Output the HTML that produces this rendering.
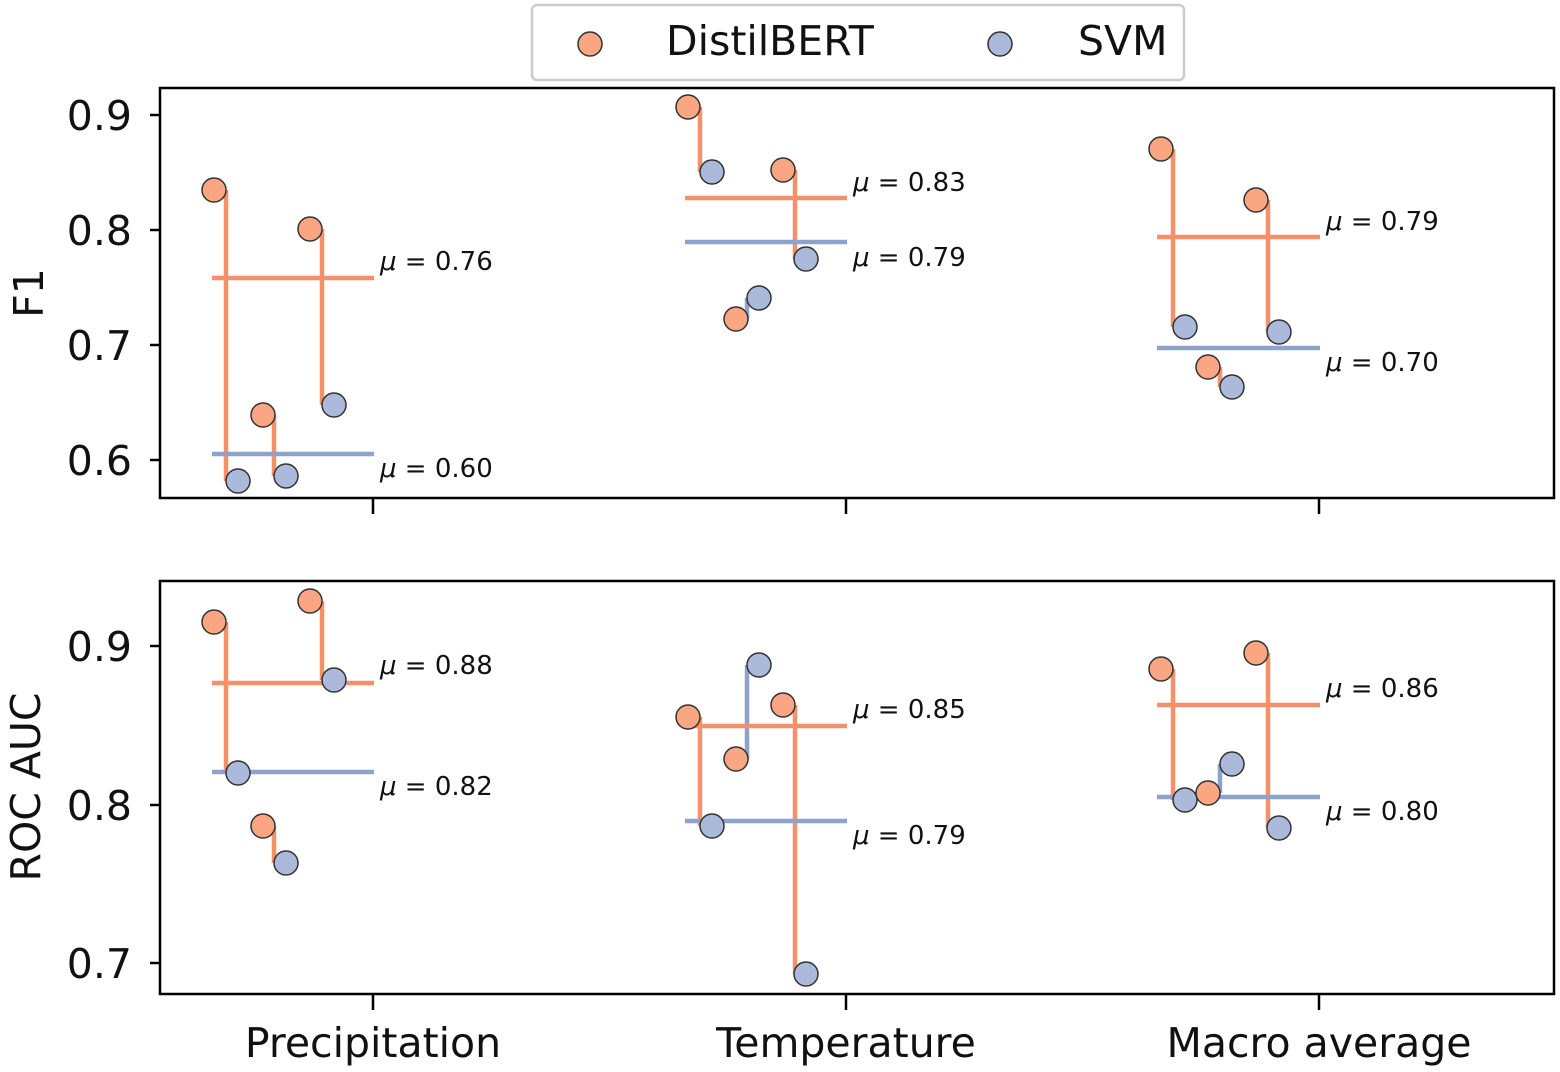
<!DOCTYPE html>
<html><head><meta charset="utf-8"><style>body{margin:0;background:#fff}svg{display:block}text{font-family:"DejaVu Sans","Liberation Sans",sans-serif;fill:#111}</style></head><body>
<svg width="1560" height="1072" viewBox="0 0 1560 1072" xmlns="http://www.w3.org/2000/svg">
<defs>
<style>.o{fill:#fba682;stroke:#333;stroke-width:1.5}.b{fill:#abb9da;stroke:#333;stroke-width:1.5}.lo{stroke:#f4906a;stroke-width:4.5}.lb{stroke:#8fa2cc;stroke-width:4.5}.t{font-size:41px}.m{font-size:26px}.ax{fill:none;stroke:#000;stroke-width:2.5}.tk{stroke:#000;stroke-width:2.5}</style>
</defs>
<g>
<line class="lo" x1="226" y1="190" x2="226" y2="481"/><line class="lo" x1="322" y1="229" x2="322" y2="405"/><line class="lo" x1="274" y1="415" x2="274" y2="476"/>
<line class="lo" x1="212" y1="278" x2="374" y2="278"/><line class="lb" x1="212" y1="454" x2="374" y2="454"/>
<line class="lo" x1="700" y1="107" x2="700" y2="172"/><line class="lo" x1="795" y1="170" x2="795" y2="259"/><line class="lb" x1="747" y1="298" x2="747" y2="319"/>
<line class="lo" x1="685" y1="198" x2="847" y2="198"/><line class="lb" x1="685" y1="242" x2="847" y2="242"/>
<line class="lo" x1="1173" y1="149" x2="1173" y2="327"/><line class="lo" x1="1268" y1="200" x2="1268" y2="332"/><line class="lo" x1="1220" y1="367" x2="1220" y2="387"/>
<line class="lo" x1="1157" y1="237" x2="1320" y2="237"/><line class="lb" x1="1157" y1="348" x2="1320" y2="348"/>
<circle class="o" cx="214" cy="190" r="12"/><circle class="o" cx="310" cy="229" r="12"/><circle class="o" cx="263" cy="415" r="12"/>
<circle class="b" cx="238" cy="481" r="12"/><circle class="b" cx="334" cy="405" r="12"/><circle class="b" cx="286" cy="476" r="12"/>
<circle class="o" cx="688" cy="107" r="12"/><circle class="o" cx="783" cy="170" r="12"/><circle class="o" cx="736" cy="319" r="12"/>
<circle class="b" cx="712" cy="172" r="12"/><circle class="b" cx="806" cy="259" r="12"/><circle class="b" cx="759" cy="298" r="12"/>
<circle class="o" cx="1161" cy="149" r="12"/><circle class="o" cx="1256" cy="200" r="12"/><circle class="o" cx="1208" cy="367" r="12"/>
<circle class="b" cx="1185" cy="327" r="12"/><circle class="b" cx="1279" cy="332" r="12"/><circle class="b" cx="1232" cy="387" r="12"/>
<text class="m" x="380" y="270"><tspan font-style="italic">μ</tspan> = 0.76</text>
<text class="m" x="380" y="477"><tspan font-style="italic">μ</tspan> = 0.60</text>
<text class="m" x="853" y="191"><tspan font-style="italic">μ</tspan> = 0.83</text>
<text class="m" x="853" y="266"><tspan font-style="italic">μ</tspan> = 0.79</text>
<text class="m" x="1326" y="230"><tspan font-style="italic">μ</tspan> = 0.79</text>
<text class="m" x="1326" y="371"><tspan font-style="italic">μ</tspan> = 0.70</text>
<rect class="ax" x="160" y="88" width="1394" height="410"/>
<line class="tk" x1="373" y1="498" x2="373" y2="514"/><line class="tk" x1="846" y1="498" x2="846" y2="514"/><line class="tk" x1="1319" y1="498" x2="1319" y2="514"/>
<line class="tk" x1="150" y1="115" x2="160" y2="115"/><line class="tk" x1="150" y1="230" x2="160" y2="230"/><line class="tk" x1="150" y1="345" x2="160" y2="345"/><line class="tk" x1="150" y1="460" x2="160" y2="460"/>
<text class="t" x="132" y="130" text-anchor="end">0.9</text><text class="t" x="132" y="245" text-anchor="end">0.8</text><text class="t" x="132" y="360" text-anchor="end">0.7</text><text class="t" x="132" y="475" text-anchor="end">0.6</text>
<text class="t" transform="translate(43,293) rotate(-90)" text-anchor="middle">F1</text>
</g>
<g>
<line class="lo" x1="226" y1="622" x2="226" y2="773"/><line class="lo" x1="322" y1="601" x2="322" y2="680"/><line class="lo" x1="274" y1="826" x2="274" y2="863"/>
<line class="lo" x1="212" y1="683" x2="374" y2="683"/><line class="lb" x1="212" y1="772" x2="374" y2="772"/>
<line class="lo" x1="700" y1="717" x2="700" y2="826"/><line class="lo" x1="795" y1="705" x2="795" y2="974"/><line class="lb" x1="747" y1="665" x2="747" y2="759"/>
<line class="lo" x1="685" y1="726" x2="847" y2="726"/><line class="lb" x1="685" y1="821" x2="847" y2="821"/>
<line class="lo" x1="1173" y1="669" x2="1173" y2="800"/><line class="lo" x1="1268" y1="653" x2="1268" y2="828"/><line class="lb" x1="1220" y1="764" x2="1220" y2="793"/>
<line class="lo" x1="1157" y1="705" x2="1320" y2="705"/><line class="lb" x1="1157" y1="797" x2="1320" y2="797"/>
<circle class="o" cx="214" cy="622" r="12"/><circle class="o" cx="310" cy="601" r="12"/><circle class="o" cx="263" cy="826" r="12"/>
<circle class="b" cx="238" cy="773" r="12"/><circle class="b" cx="334" cy="680" r="12"/><circle class="b" cx="286" cy="863" r="12"/>
<circle class="o" cx="688" cy="717" r="12"/><circle class="o" cx="783" cy="705" r="12"/><circle class="o" cx="736" cy="759" r="12"/>
<circle class="b" cx="712" cy="826" r="12"/><circle class="b" cx="806" cy="974" r="12"/><circle class="b" cx="759" cy="665" r="12"/>
<circle class="o" cx="1161" cy="669" r="12"/><circle class="o" cx="1256" cy="653" r="12"/>
<circle class="b" cx="1185" cy="800" r="12"/><circle class="b" cx="1279" cy="828" r="12"/><circle class="b" cx="1232" cy="764" r="12"/>
<circle class="o" cx="1208" cy="793" r="12"/>
<text class="m" x="380" y="674"><tspan font-style="italic">μ</tspan> = 0.88</text>
<text class="m" x="380" y="795"><tspan font-style="italic">μ</tspan> = 0.82</text>
<text class="m" x="853" y="718"><tspan font-style="italic">μ</tspan> = 0.85</text>
<text class="m" x="853" y="844"><tspan font-style="italic">μ</tspan> = 0.79</text>
<text class="m" x="1326" y="697"><tspan font-style="italic">μ</tspan> = 0.86</text>
<text class="m" x="1326" y="820"><tspan font-style="italic">μ</tspan> = 0.80</text>
<rect class="ax" x="160" y="581" width="1394" height="413"/>
<line class="tk" x1="373" y1="994" x2="373" y2="1010"/><line class="tk" x1="846" y1="994" x2="846" y2="1010"/><line class="tk" x1="1319" y1="994" x2="1319" y2="1010"/>
<line class="tk" x1="150" y1="646" x2="160" y2="646"/><line class="tk" x1="150" y1="805" x2="160" y2="805"/><line class="tk" x1="150" y1="963" x2="160" y2="963"/>
<text class="t" x="132" y="661" text-anchor="end">0.9</text><text class="t" x="132" y="820" text-anchor="end">0.8</text><text class="t" x="132" y="978" text-anchor="end">0.7</text>
<text class="t" transform="translate(40,787) rotate(-90)" text-anchor="middle">ROC AUC</text>
<text class="t" x="373" y="1057" text-anchor="middle">Precipitation</text>
<text class="t" x="846" y="1057" text-anchor="middle">Temperature</text>
<text class="t" x="1319" y="1057" text-anchor="middle">Macro average</text>
</g>
<rect x="532" y="5" width="652" height="75" rx="5" fill="#fff" stroke="#ccc" stroke-width="2.5"/>
<circle class="o" cx="590" cy="44" r="12"/><text class="t" x="666" y="55">DistilBERT</text>
<circle class="b" cx="1000" cy="44" r="12"/><text class="t" x="1078" y="55">SVM</text>
</svg>
</body></html>
